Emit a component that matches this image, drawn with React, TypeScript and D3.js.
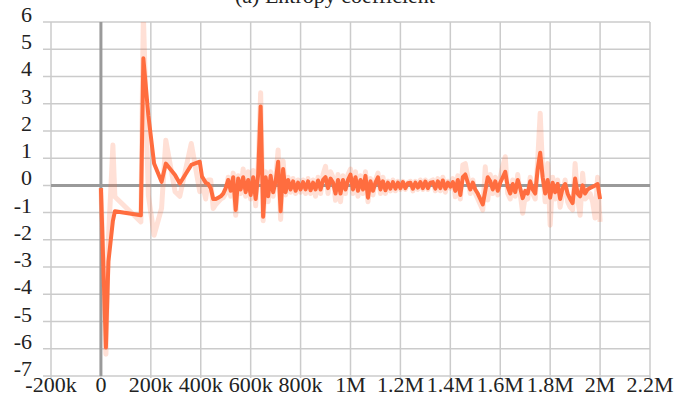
import React from "react";
import * as d3 from "d3";

const WIDTH = 676;
const HEIGHT = 399;

const title = "(a) Entropy coefficient";

const xTicks = [-200000, 0, 200000, 400000, 600000, 800000, 1000000, 1200000, 1400000, 1600000, 1800000, 2000000, 2200000];
const xTickLabels = ["-200k", "0", "200k", "400k", "600k", "800k", "1M", "1.2M", "1.4M", "1.6M", "1.8M", "2M", "2.2M"];
const yTicks = [-7, -6, -5, -4, -3, -2, -1, 0, 1, 2, 3, 4, 5, 6];

// early (sparse) logging steps
const earlySteps = [0, 20000, 30000, 48000, 56000, 160000, 170000, 190000, 213000, 243000, 260000, 297000, 316000, 362000, 396000, 405000, 420000, 430000];
const earlySmoothed = [-0.1, -5.95, -2.8, -1.3, -0.95, -1.1, 4.67, 2.58, 0.8, 0.13, 0.8, 0.38, 0.07, 0.75, 0.87, 0.32, 0.1, 0.05];
const earlyRaw = [-0.1, -6.2, -2.0, 1.48, -0.42, -1.34, 6.3, -0.36, -1.83, -0.84, 1.66, -0.23, -0.4, 1.54, -0.23, 0.1, -0.5, 0.2];

// dense logging: every 10k steps from 440k to 2M
const denseStart = 440000;
const denseStep = 10000;
const denseSmoothed = [
  -0.1, -0.5, -0.5, -0.45, -0.4, -0.3, -0.1, 0.2, -0.2, 0.3,
  -0.9, 0.25, -0.15, 0.3, -0.25, 0.2, -0.35, 0.3, -0.5, 0.4,
  2.9, -1.15, 0.3, -0.4, 0.35, -0.25, 0.15, 0.87, -0.95, 0.6,
  -0.25, 0.2, -0.15, 0.15, -0.2, 0.1, -0.15, 0.12, -0.15, 0.15,
  -0.18, 0.1, -0.15, 0.18, -0.15, 0.2, 0.3, -0.1, 0.25, 0.1,
  -0.3, 0.2, -0.3, 0.2, -0.15, 0.2, 0.4, -0.15, 0.3, -0.2,
  0.2, -0.15, 0.35, -0.45, 0.15, -0.2, 0.1, 0.3, -0.15, 0.15,
  -0.18, 0.1, -0.12, 0.12, -0.12, 0.1, -0.1, 0.12, -0.1, 0.08,
  0.1, -0.12, 0.1, -0.08, 0.12, -0.1, 0.14, -0.1, 0.1, 0.12,
  -0.12, 0.15, -0.1, 0.18, -0.12, 0.1, -0.05, 0.12, -0.2, 0.2,
  -0.35, 0.3, 0.4, 0.1, -0.15, 0.1, -0.15, -0.3, -0.5, -0.7,
  -0.2, 0.3, 0.15, -0.15, 0.15, -0.2, 0.1, 0.3, 0.5, -0.05,
  -0.3, 0.05, -0.25, 0.2, -0.1, -0.47, -0.2, -0.3, 0.15, -0.15,
  -0.3, 0.6, 1.2, 0.3, -0.3, 0.2, -0.45, 0.1, -0.25, 0.05,
  -0.5, -0.1, 0.05, -0.3, -0.5, -0.65, 0.25, -0.3, -0.4, 0.0,
  -0.3, -0.15, -0.1, -0.05, 0.0, 0.05, -0.5,
];
const denseRaw = [
  0.2, -0.85, -0.7, -0.6, -0.5, -0.45, -0.3, 0.3, -0.4, 0.45,
  -1.1, 0.35, -0.3, 0.6, -0.4, 0.5, -0.5, 0.55, -0.75, 0.7,
  3.4, -1.3, 0.5, -0.6, 0.5, -0.4, 0.2, 1.3, -1.25, 0.9,
  -0.35, 0.3, -0.25, 0.25, -0.3, 0.2, -0.25, 0.2, -0.3, 0.25,
  -0.3, 0.2, -0.4, 0.3, -0.3, 0.4, 0.7, -0.3, 0.5, 0.3,
  -0.55, 0.4, -0.6, 0.35, -0.3, 0.4, 0.6, -0.3, 0.5, -0.4,
  0.35, -0.3, 0.5, -0.6, 0.25, -0.35, 0.2, 0.45, -0.3, 0.3,
  -0.3, 0.15, -0.2, 0.2, -0.2, 0.15, -0.15, 0.15, -0.15, 0.1,
  0.15, -0.2, 0.15, -0.15, 0.2, -0.15, 0.2, -0.15, 0.15, 0.2,
  -0.2, 0.25, -0.2, 0.3, -0.25, 0.15, -0.1, 0.25, -0.42, 0.35,
  -0.5, 0.75, 0.8, 0.3, -0.3, 0.2, -0.3, -0.5, -0.7, -0.9,
  0.68, -0.54, 0.4, -0.3, 0.3, -0.35, 0.3, 0.7, 1.05, -0.3,
  -0.5, 0.2, -0.4, 0.4, -0.3, -1.02, -0.4, -0.5, 0.3, -0.3,
  -0.5, 0.9, 2.65, 0.5, -0.6, 0.8, -1.46, 0.3, -0.5, 0.2,
  -0.8, -0.3, 0.2, -0.6, -0.8, -0.9, 0.8, -0.5, -1.1, 0.45,
  -0.5, -0.4, -0.3, -0.6, -1.2, 0.3, -1.34,
];

const steps = earlySteps.concat(denseSmoothed.map((_, i) => denseStart + i * denseStep));
const smoothed = earlySmoothed.concat(denseSmoothed);
const raw = earlyRaw.concat(denseRaw);

const margin = { left: 51, right: 26, top: 22, bottom: 23 };

export default function App() {
  const x = d3.scaleLinear().domain([-200000, 2200000]).range([margin.left, WIDTH - margin.right]);
  const y = d3.scaleLinear().domain([-7, 6]).range([HEIGHT - margin.bottom, margin.top]);

  const line = d3
    .line<number>()
    .x((_, i) => x(steps[i]))
    .y((d) => y(d));

  const x0 = x(-200000);
  const x1 = x(2200000);
  const yTop = y(6);
  const yBot = y(-7);
  const serif = "'Liberation Serif', 'DejaVu Serif', 'Times New Roman', Times, serif";

  return (
    <svg
      width={WIDTH}
      height={HEIGHT}
      style={{ position: "absolute", left: 0, top: 0, background: "#fff" }}
    >
      <defs>
        <clipPath id="plotClip">
          <rect x={x0} y={yTop} width={x1 - x0} height={yBot - yTop} />
        </clipPath>
      </defs>
      <text x={335} y={3} textAnchor="middle" fontSize={22} fill="#222" fontFamily={serif}>
        {title}
      </text>
      {/* grid */}
      {yTicks.map((t) => (
        <line key={"gy" + t} x1={x0 - 8} x2={x1} y1={y(t)} y2={y(t)} stroke="#cbcbcb" strokeWidth={1.5} />
      ))}
      {xTicks.map((t) => (
        <line key={"gx" + t} x1={x(t)} x2={x(t)} y1={yTop} y2={yBot + 2} stroke="#cbcbcb" strokeWidth={1.5} />
      ))}
      {/* zero axes */}
      <line x1={x0} x2={x1} y1={y(0)} y2={y(0)} stroke="#9a9a9a" strokeWidth={3} />
      <line x1={x(0)} x2={x(0)} y1={yTop} y2={yBot} stroke="#9a9a9a" strokeWidth={3} />
      {/* series */}
      <g clipPath="url(#plotClip)">
        <path d={line(raw) || ""} fill="none" stroke="#ff7043" strokeOpacity={0.22} strokeWidth={5} strokeLinejoin="round" />
        <path d={line(smoothed) || ""} fill="none" stroke="#ff6d3f" strokeWidth={4} strokeLinejoin="round" />
      </g>
      {/* tick labels */}
      {yTicks.map((t) => (
        <text key={"ly" + t} x={32} y={y(t)} textAnchor="end" fontSize={22} fill="#222" fontFamily={serif}>
          {String(t)}
        </text>
      ))}
      {xTicks.map((t, i) => (
        <text key={"lx" + t} x={x(t)} y={392} textAnchor="middle" fontSize={22} fill="#222" fontFamily={serif}>
          {xTickLabels[i]}
        </text>
      ))}
    </svg>
  );
}
